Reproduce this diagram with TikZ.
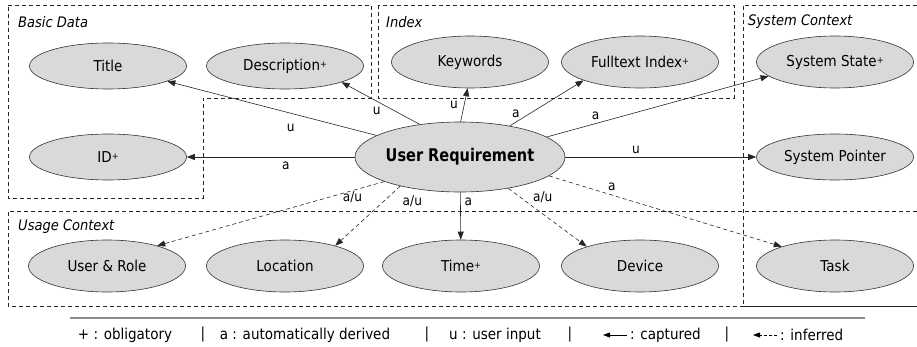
\documentclass[tikz,border=0pt]{standalone}
\usepackage{fontspec}
\setmainfont[FakeStretch=0.9]{DejaVu Sans}
\newfontfamily\urfont[FakeStretch=0.83]{DejaVu Sans}
\usetikzlibrary{shapes.geometric,arrows.meta}
\newcommand\supplus{\raisebox{0.35ex}{\fontsize{9}{9}\selectfont +}}
\tikzset{
  ent/.style={ellipse, draw=black!80, fill=gray!30, line width=0.6pt,
    minimum width=157pt, minimum height=46pt, inner sep=0pt,
    font=\fontsize{15}{15}\selectfont},
  tallent/.style={ent, minimum height=52pt},
  conn/.style={-{Triangle[length=8pt,width=6pt]}, draw=black!85, line width=0.6pt},
  infer/.style={conn, dash pattern=on 4pt off 3pt},
  lbl/.style={font=\fontsize{13.5}{13.5}\selectfont, inner sep=1pt},
  grp/.style={draw=black!85, dash pattern=on 4pt off 3pt, line width=0.7pt},
  grptitle/.style={font=\fontsize{14.5}{14.5}\selectfont\itshape, anchor=west, inner sep=0pt},
  leg/.style={font=\fontsize{15}{15}\selectfont, inner sep=0pt}
}
\begin{document}
\begin{tikzpicture}[x=1pt,y=-1pt]
\useasboundingbox (0,0) rectangle (917,347);
% group frames
\draw[grp] (8,5) -- (371,5) -- (371,98) -- (203,98) -- (203,198) -- (8,198) -- cycle;
\draw[grp] (378,5) rectangle (734,98);
\draw[grp] (917,5) -- (743,5) -- (743,306) -- (917,306);
\draw[grp] (917,211) -- (8,211) -- (8,306) -- (917,306);
\node[grptitle] (tbd) at (18,22) {Basic Data};
\node[grptitle] (tix) at (386,22) {Index};
\node[grptitle] (tsc) at (748,22) {System Context};
\node[grptitle] (tuc) at (18,227) {Usage Context};
% entities
\node[ent] (title) at (108,66) {Title};
\node[ent] (desc) at (285,66) {Description\supplus};
\node[tallent] (kw) at (470,62) {Keywords};
\node[tallent] (ft) at (640,62) {Fulltext Index\supplus};
\node[tallent] (ss) at (835,62) {System State\supplus};
\node[ent] (id) at (108,157) {ID\supplus};
\node[ent] (sp) at (835,157) {System Pointer};
\node[ent, minimum width=192pt, minimum height=70pt, font=\urfont\fontsize{17.5}{17.5}\selectfont\bfseries] (ur) at (460,157) {User Requirement};
\node[tallent] (role) at (107,266) {User \& Role};
\node[tallent] (loc) at (285,266) {Location};
\node[tallent] (time) at (461,266) {Time\supplus};
\node[tallent] (dev) at (640,266) {Device};
\node[tallent] (task) at (835,266) {Task};
% connectors
\draw[conn] (ur) -- node[lbl, pos=0.41, below=9pt] {u} (title);
\draw[conn] (ur.141) -- node[lbl, pos=0.55, below=4pt] {u} (desc.-16);
\draw[conn] (ur) -- node[lbl, pos=0.41, below=4pt] {a} (id);
\draw[conn] (ur.89) -- node[lbl, pos=0.5, left=5pt] {u} (kw.-95);
\draw[conn] (ur.32) -- node[lbl, pos=0.15, above left=0pt] {a} (ft.-162.5);
\draw[conn] (ur.13) -- node[lbl, pos=0.22, above=3pt] {a} (ss.-168);
\draw[conn] (ur) -- node[lbl, pos=0.37, above=2pt] {u} (sp);
\draw[infer] (ur.198) -- node[lbl, pos=0.14, below=0pt] {a/u} (role.22);
\draw[infer] (ur.206.6) -- node[lbl, pos=0.26, right=18pt] {a/u} (loc.22);
\draw[conn] (ur) -- node[lbl, pos=0.2, right=3pt] {a} (time);
\draw[infer] (ur.-33) -- node[lbl, pos=0.16, right=11pt] {a/u} (dev.160);
\draw[infer] (ur.-12.5) -- node[lbl, pos=0.27, above=3pt] {a} (task.160);
% legend
\coordinate (la) at (70,318);
\coordinate (lb) at (865,318);
\draw[draw=gray!90, line width=1.5pt] (la) -- (lb);
\node[leg] (l1) at (125,335) {+ : obligatory};
\node[leg] (s1) at (203,335) {|};
\node[leg] (l2) at (305,335) {a : automatically derived};
\node[leg] (s2) at (427,335) {|};
\node[leg] (l3) at (495,335) {u : user input};
\node[leg] (s3) at (570,335) {|};
\coordinate (c1) at (627,335);
\coordinate (c0) at (603,335);
\draw[-{Triangle[length=7pt,width=5pt]}, line width=0.8pt] (c1) -- (c0);
\node[leg, anchor=west] (l4) at (630,335) {: captured};
\node[leg] (s4) at (727,335) {|};
\coordinate (i1) at (777,335);
\coordinate (i0) at (753,335);
\draw[-{Triangle[length=7pt,width=5pt]}, line width=0.8pt, dash pattern=on 3pt off 2pt] (i1) -- (i0);
\node[leg, anchor=west] (l5) at (780,335) {: inferred};
\end{tikzpicture}
\end{document}
